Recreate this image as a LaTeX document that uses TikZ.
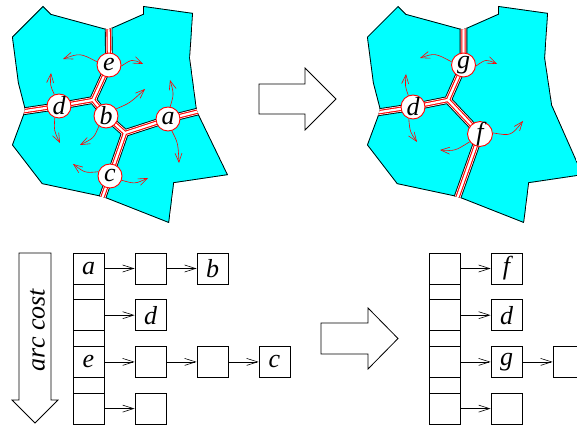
\documentclass[tikz,border=0pt]{standalone}
\usepackage{fontspec}
\setmainfont{Liberation Serif}
\usetikzlibrary{arrows.meta}
\definecolor{aqua}{RGB}{0,255,255}
\definecolor{pured}{RGB}{255,0,0}
\newcommand\lblfont{\itshape\fontsize{26}{28}\selectfont}
\begin{document}
\begin{tikzpicture}[x=1pt,y=-1pt,
  band1/.style={draw=black,line width=7.6pt},
  band2/.style={draw=white,line width=5.8pt},
  band3/.style={draw=pured,line width=4.4pt},
  band4/.style={draw=white,line width=2.2pt},
  circ/.style={circle,draw=pured,fill=white,line width=0.9pt,minimum size=24pt,inner sep=0pt,font=\lblfont},
  rarr/.style={draw=pured,line width=0.6pt,-{Straight Barb[length=9pt,width=7pt]}},
  cell/.style={draw=black,line width=0.8pt,minimum width=31pt,inner sep=0pt,font=\lblfont},
  big/.style={cell,minimum height=31pt},
  small/.style={cell,minimum height=15.7pt},
  larr/.style={draw=black,line width=0.6pt,-{Straight Barb[length=11pt,width=7pt]}},
  hollow/.style={draw=black,fill=white,line width=0.8pt,line join=miter}
]
\useasboundingbox (0,0) rectangle (577,427);
\clip (0,0) rectangle (577,427);

% ---------------- left map ----------------
\begin{scope}
  \clip (12,37) -- (43,6) -- (51,14) -- (108,29.5) -- (143,14) -- (143,6) -- (193,13) -- (190,58) -- (197,111) -- (228,175) -- (174,183) -- (169,223) -- (103,197) -- (42,184) -- (12,145) -- (25,110) -- (18,83) -- cycle;
  \fill[aqua] (12,37) -- (43,6) -- (51,14) -- (108,29.5) -- (143,14) -- (143,6) -- (193,13) -- (190,58) -- (197,111) -- (228,175) -- (174,183) -- (169,223) -- (103,197) -- (42,184) -- (12,145) -- (25,110) -- (18,83) -- cycle;
  \draw[line width=1.6pt] (12,37) -- (43,6) -- (51,14) -- (108,29.5) -- (143,14) -- (143,6) -- (193,13) -- (190,58) -- (197,111) -- (228,175) -- (174,183) -- (169,223) -- (103,197) -- (42,184) -- (12,145) -- (25,110) -- (18,83) -- cycle;
  \coordinate (Ltop) at (108.5,18);
  \coordinate (pe) at (109,65);
  \coordinate (LJ1) at (93,100);
  \coordinate (pd) at (59,106);
  \coordinate (Lleft) at (12,113);
  \coordinate (pb) at (106,116);
  \coordinate (LJ2) at (125,133);
  \coordinate (pa) at (168,119);
  \coordinate (Lright) at (212,108);
  \coordinate (pc) at (110,176);
  \coordinate (Lbot) at (98,210);
  \foreach \s in {band1,band2,band3,band4}{
    \draw[\s] (Ltop) -- (pe) -- (LJ1) -- (pd) -- (Lleft);
    \draw[\s] (LJ1) -- (pb) -- (LJ2) -- (pa) -- (Lright);
    \draw[\s] (LJ2) -- (pc) -- (Lbot);
  }
\end{scope}
\node[circ] (e) at (pe) {e};
\node[circ] (d) at (pd) {d};
\node[circ] (b) at (pb) {b};
\node[circ] (a) at (pa) {a};
\node[circ] (c) at (pc) {c};
\coordinate (te1) at (63,59);
\coordinate (te2) at (143,64);
\coordinate (td1) at (51,73);
\coordinate (td2) at (60,143);
\coordinate (tb1) at (145,89);
\coordinate (tb2) at (80,145);
\coordinate (ta1) at (170,80);
\coordinate (ta2) at (179,163);
\coordinate (tc1) at (73,164);
\coordinate (tc2) at (148,178);
\draw[rarr] (e.165) .. controls (80,53) .. (te1);
\draw[rarr] (e.-5) .. controls (132,59) .. (te2);
\draw[rarr] (d.112) .. controls (50,85) .. (td1);
\draw[rarr] (d.-110) .. controls (54,131) .. (td2);
\draw[rarr] (b.35) .. controls (130,103) .. (tb1);
\draw[rarr] (b.-125) .. controls (94,138) .. (tb2);
\draw[rarr] (a.80) .. controls (174,94) .. (ta1);
\draw[rarr] (a.-72) .. controls (178,143) .. (ta2);
\draw[rarr] (c.160) .. controls (85,173) .. (tc1);
\draw[rarr] (c.-20) .. controls (135,184) .. (tc2);

% ---------------- right map ----------------
\begin{scope}[shift={(355,0)}]
  \begin{scope}
  \clip (12,37) -- (43,6) -- (51,14) -- (108,29.5) -- (143,14) -- (143,6) -- (193,13) -- (190,58) -- (197,105) -- (228,175) -- (174,183) -- (169,223) -- (103,197) -- (42,184) -- (12,145) -- (25,110) -- (18,83) -- cycle;
  \fill[aqua] (12,37) -- (43,6) -- (51,14) -- (108,29.5) -- (143,14) -- (143,6) -- (193,13) -- (190,58) -- (197,105) -- (228,175) -- (174,183) -- (169,223) -- (103,197) -- (42,184) -- (12,145) -- (25,110) -- (18,83) -- cycle;
  \draw[line width=1.6pt] (12,37) -- (43,6) -- (51,14) -- (108,29.5) -- (143,14) -- (143,6) -- (193,13) -- (190,58) -- (197,105) -- (228,175) -- (174,183) -- (169,223) -- (103,197) -- (42,184) -- (12,145) -- (25,110) -- (18,83) -- cycle;
  \coordinate (Rtop) at (108.5,18);
  \coordinate (pg) at (108.5,65);
  \coordinate (RJ1) at (93,100);
  \coordinate (pd2) at (58,107);
  \coordinate (Rleft) at (12,114);
  \coordinate (pf) at (125,134);
  \coordinate (Rbot) at (98,210);
  \foreach \s in {band1,band2,band3,band4}{
    \draw[\s] (Rtop) -- (pg) -- (RJ1) -- (pd2) -- (Rleft);
    \draw[\s] (RJ1) -- (pf) -- (Rbot);
  }
  \end{scope}
  \node[circ] (g) at (pg) {g};
  \node[circ] (d2) at (pd2) {d};
  \node[circ] (f) at (pf) {f};
  \coordinate (tg1) at (65,58);
  \coordinate (tg2) at (142,64);
  \coordinate (td3) at (51,74);
  \coordinate (td4) at (62,142);
  \coordinate (tf1) at (168,121);
  \coordinate (tf2) at (85,150);
  \draw[rarr] (g.165) .. controls (80,53) .. (tg1);
  \draw[rarr] (g.-5) .. controls (131,59) .. (tg2);
  \draw[rarr] (d2.112) .. controls (50,86) .. (td3);
  \draw[rarr] (d2.-110) .. controls (55,132) .. (td4);
  \draw[rarr] (f.5) .. controls (156,136) .. (tf1);
  \draw[rarr] (f.-143) .. controls (100,151) .. (tf2);
\end{scope}

% ---------------- hollow arrows ----------------
\draw[hollow] (259,84) -- (305,84) -- (305,68) -- (336,99) -- (305,130) -- (305,114) -- (259,114) -- cycle;
\draw[hollow] (321,323) -- (368,323) -- (368,308) -- (398,338.5) -- (368,369) -- (368,354) -- (321,354) -- cycle;
\draw[hollow] (19,253) -- (51,253) -- (51,400) -- (58,400) -- (35,423) -- (12,400) -- (19,400) -- cycle;
\node[rotate=90,font=\lblfont,inner sep=0pt] (arccost) at (37.5,330) {arc cost};

% ---------------- left list ----------------
\node[big] (L1) at (88.5,268.5) {a};
\node[small] (Ls1) at (88.5,291.85) {};
\node[big] (L2) at (88.5,315.2) {};
\node[small] (Ls2) at (88.5,338.55) {};
\node[big] (L3) at (88.5,361.9) {e};
\node[small] (Ls3) at (88.5,385.25) {};
\node[big] (L4) at (88.5,408.6) {};
\node[big] (B1) at (150.5,268.5) {};
\node[big] (B1b) at (212.5,268.5) {b};
\node[big] (B2) at (150.5,315.2) {d};
\node[big] (B3) at (150.5,361.9) {};
\node[big] (B3b) at (212.5,361.9) {};
\node[big] (B3c) at (274.5,361.9) {c};
\node[big] (B4) at (150.5,408.6) {};
\draw[larr] (L1) -- (B1);
\draw[larr] (B1) -- (B1b);
\draw[larr] (L2) -- (B2);
\draw[larr] (L3) -- (B3);
\draw[larr] (B3) -- (B3b);
\draw[larr] (B3b) -- (B3c);
\draw[larr] (L4) -- (B4);

% ---------------- right list ----------------
\node[big] (R1) at (444.5,268.5) {};
\node[small] (Rs1) at (444.5,291.85) {};
\node[big] (R2) at (444.5,315.2) {};
\node[small] (Rs2) at (444.5,338.55) {};
\node[big] (R3) at (444.5,361.9) {};
\node[small] (Rs3) at (444.5,385.25) {};
\node[big] (R4) at (444.5,408.6) {};
\node[big] (C1) at (506.5,268.5) {f};
\node[big] (C2) at (506.5,315.2) {d};
\node[big] (C3) at (506.5,361.9) {g};
\node[big] (C3b) at (568.5,361.9) {};
\node[big] (C4) at (506.5,408.6) {};
\draw[larr] (R1) -- (C1);
\draw[larr] (R2) -- (C2);
\draw[larr] (R3) -- (C3);
\draw[larr] (C3) -- (C3b);
\draw[larr] (R4) -- (C4);
\end{tikzpicture}
\end{document}
